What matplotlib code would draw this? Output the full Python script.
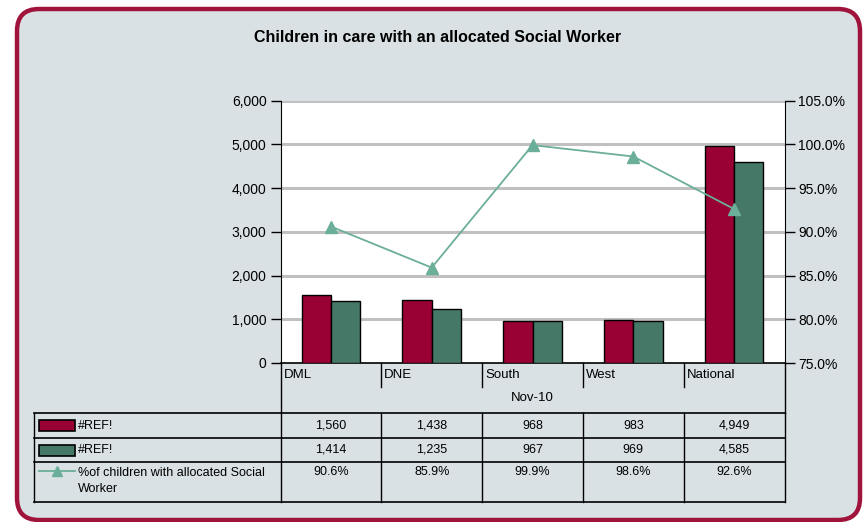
import matplotlib
matplotlib.use("Agg")
import matplotlib.pyplot as plt
from matplotlib.patches import FancyBboxPatch, Rectangle
from matplotlib.lines import Line2D
import numpy as np

categories = ["DML", "DNE", "South", "West", "National"]
period_label = "Nov-10"
series1_name = "#REF!"
series2_name = "#REF!"
line_name = "%of children with allocated Social\nWorker"
series1 = [1560, 1438, 968, 983, 4949]
series2 = [1414, 1235, 967, 969, 4585]
pct = [90.6, 85.9, 99.9, 98.6, 92.6]
left_ticks = [0, 1000, 2000, 3000, 4000, 5000, 6000]
right_ticks = [75.0, 80.0, 85.0, 90.0, 95.0, 100.0, 105.0]

title = "Children in care with an allocated Social Worker"

W, H = 863, 522
BG = "#D9E1E4"
MAROON = "#990033"
GREEN = "#467868"
LINEC = "#6BAE99"
BORDER = "#A0143C"

plt.rcParams['font.family'] = ['Liberation Sans', 'DejaVu Sans']

fig = plt.figure(figsize=(W / 100, H / 100), dpi=100)
fig.patch.set_facecolor("white")

# overlay in pixel coordinates
ov = fig.add_axes([0, 0, 1, 1], zorder=0)
ov.set_xlim(0, W)
ov.set_ylim(H, 0)
ov.axis("off")
ov.add_patch(FancyBboxPatch((17, 9), 843, 511, boxstyle="round,pad=0,rounding_size=22",
                            facecolor=BG, edgecolor=BORDER, linewidth=3.2, clip_on=False))
ov.text(438, 37, title, ha="center", va="center", fontsize=11.5, fontweight="bold")

# plot area
px0, px1, py_top, py_bot = 280.5, 784.5, 100.5, 363
ax = fig.add_axes([px0 / W, 1 - py_bot / H, (px1 - px0) / W, (py_bot - py_top) / H], zorder=2)
ax.set_facecolor("white")
n = len(categories)
x = np.arange(n)
bw = 0.29
ax.bar(x - bw / 2, series1, bw, color=MAROON, edgecolor="black", linewidth=1.0, zorder=3)
ax.bar(x + bw / 2, series2, bw, color=GREEN, edgecolor="black", linewidth=1.0, zorder=3)
ax.set_xlim(-0.5, n - 0.5)
ax.set_ylim(left_ticks[0], left_ticks[-1])
ax.set_yticks(left_ticks)
ax.set_yticklabels([f"{v:,}" for v in left_ticks], fontsize=10)
ax.set_xticks([])
for v in left_ticks[1:]:
    ax.axhline(v, color="#C0C0C0", linewidth=2.2, zorder=1)
for s in ["top", "right"]:
    ax.spines[s].set_visible(False)
ax.spines["left"].set_color("black")
ax.spines["bottom"].set_color("black")
ax.spines["bottom"].set_linewidth(1.2)
ax.tick_params(axis="y", length=7, width=1, direction="out", pad=3)

ax2 = ax.twinx()
ax2.set_ylim(right_ticks[0], right_ticks[-1])
ax2.set_yticks(right_ticks)
ax2.set_yticklabels([f"{v:.1f}%" for v in right_ticks], fontsize=10)
ax2.plot(x, pct, color=LINEC, linewidth=1.3, marker="^", markersize=8, zorder=4)
for s in ["top", "left", "bottom"]:
    ax2.spines[s].set_visible(False)
ax2.spines["right"].set_color("black")
ax2.tick_params(axis="y", length=7, width=1, direction="out", pad=3)

# category and table area
colw = (px1 - px0) / n
lw = 1.0
ov2 = fig.add_axes([0, 0, 1, 1], zorder=3)
ov2.set_xlim(0, W)
ov2.set_ylim(H, 0)
ov2.axis("off")
ov2.patch.set_alpha(0)

def ln(x0, y0, x1, y1, w=lw):
    ov2.add_line(Line2D([x0, x1], [y0, y1], color="black", linewidth=w))

# category labels
for i, c in enumerate(categories):
    ov2.text(px0 + i * colw + 3, 375, c, ha="left", va="center", fontsize=9.5)
    if i > 0:
        ln(px0 + i * colw, py_bot, px0 + i * colw, 387)
ln(px0, py_bot, px0, 413)
ln(px1, py_bot, px1, 413)
ov2.text((px0 + px1) / 2, 398, period_label, ha="center", va="center", fontsize=9.5)

# table
tx0 = 34
rows_y = [413, 438, 462, 502]
for yy in rows_y:
    ln(tx0, yy, px1, yy, 1.2)
ln(tx0, 413, tx0, 502)
for i in range(n + 1):
    ln(px0 + i * colw, 413, px0 + i * colw, 502)

# legend keys
ov2.add_patch(Rectangle((39, 420), 36, 11, facecolor=MAROON, edgecolor="black", linewidth=1.2))
ov2.add_patch(Rectangle((39, 444.5), 36, 11, facecolor=GREEN, edgecolor="black", linewidth=1.2))
ov2.add_line(Line2D([39, 75], [471, 471], color=LINEC, linewidth=1.3))
ov2.plot([57], [471], marker="^", color=LINEC, markersize=7)
ov2.text(78, 426, series1_name, ha="left", va="center", fontsize=9)
ov2.text(78, 450, series2_name, ha="left", va="center", fontsize=9)
ov2.text(78, 481, line_name, ha="left", va="center", fontsize=9, linespacing=1.55)

for i in range(n):
    cx = px0 + (i + 0.5) * colw
    ov2.text(cx, 426, f"{series1[i]:,}", ha="center", va="center", fontsize=9)
    ov2.text(cx, 450, f"{series2[i]:,}", ha="center", va="center", fontsize=9)
    ov2.text(cx, 472, f"{pct[i]:.1f}%", ha="center", va="center", fontsize=9)

fig.savefig("out.png", dpi=100, facecolor="white")
